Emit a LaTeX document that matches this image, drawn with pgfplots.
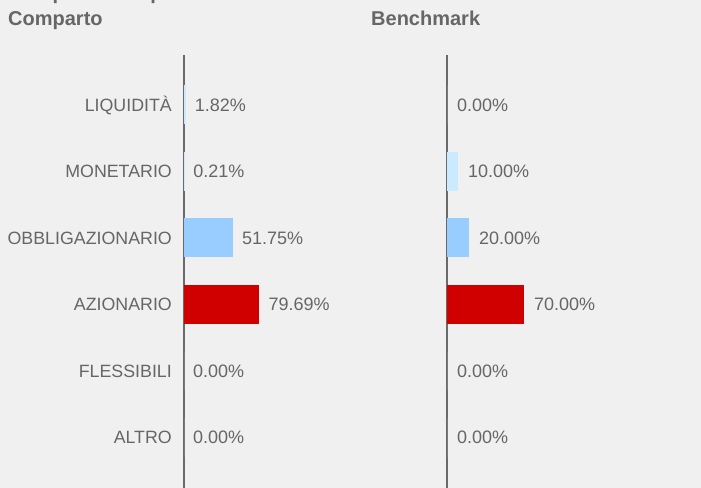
\documentclass[border=0pt]{standalone}
\usepackage{pgfplots}
\pgfplotsset{compat=1.18}
\usepackage{fontspec}
\setmainfont{Liberation Sans}
\definecolor{bg}{HTML}{F0F0F0}
\definecolor{txt}{HTML}{666666}
\definecolor{axg}{HTML}{6A6A6A}
\definecolor{redbar}{HTML}{D00000}
\definecolor{bluebar}{HTML}{99CCFF}
\definecolor{lightbar}{HTML}{CCEAFF}
\newcommand\lab{\fontsize{18bp}{20bp}\selectfont}
\newcommand\cat{\fontsize{17.8bp}{20bp}\selectfont}
\newcommand\ttl{\fontsize{20bp}{24bp}\selectfont\bfseries}
\pgfplotsset{
 mybars/.style={
  scale only axis, height=433.5bp, xbar, bar width=39bp,
  xmin=0, xmax=100, ymin=-0.75, ymax=5.77, y dir=reverse,
  axis x line=none, axis y line*=left,
  y axis line style={-, draw=axg, line width=2bp},
  ytick={0,...,5}, major tick length=0pt,
  clip=false,
  point meta=explicit symbolic,
  nodes near coords={\pgfplotspointmeta\%},
  every node near coord/.append style={anchor=base west, inner sep=0pt, xshift=9bp, yshift=-6.4bp, font=\lab, text=txt},
  every axis plot/.append style={draw=none, bar shift=0pt},
 }
}
\begin{document}
\begin{tikzpicture}
\fill[bg] (0,0) rectangle (701bp,-488bp);
\node[anchor=base west, inner sep=0pt, text=txt, font=\ttl] at (8bp,1bp) {Composizione per asset class};
\node[anchor=base west, inner sep=0pt, text=txt, font=\ttl] at (8bp,-25.5bp) {Comparto};
\node[anchor=base west, inner sep=0pt, text=txt, font=\ttl] at (371bp,-25.5bp) {Benchmark};
\begin{axis}[mybars, width=94.5bp, at={(184bp,-55.1bp)}, anchor=north west,
  yticklabels={LIQUIDITÀ,MONETARIO,OBBLIGAZIONARIO,AZIONARIO,FLESSIBILI,ALTRO},
  yticklabel style={font=\cat, text=txt, inner sep=0pt, anchor=base east, xshift=-12bp, yshift=-6.4bp}]
\addplot[fill=lightbar] coordinates {(1.82,0) [1.82]};
\addplot[fill=lightbar] coordinates {(0.21,1) [0.21]};
\addplot[fill=bluebar] coordinates {(51.75,2) [51.75]};
\addplot[fill=redbar] coordinates {(79.69,3) [79.69]};
\addplot[fill=lightbar] coordinates {(0,4) [0.00]};
\addplot[fill=lightbar] coordinates {(0,5) [0.00]};
\end{axis}
\begin{axis}[mybars, width=110bp, at={(447bp,-55.1bp)}, anchor=north west, yticklabels={},
  every node near coord/.append style={xshift=1bp}]
\addplot[fill=lightbar] coordinates {(0,0) [0.00]};
\addplot[fill=lightbar] coordinates {(10,1) [10.00]};
\addplot[fill=bluebar] coordinates {(20,2) [20.00]};
\addplot[fill=redbar] coordinates {(70,3) [70.00]};
\addplot[fill=lightbar] coordinates {(0,4) [0.00]};
\addplot[fill=lightbar] coordinates {(0,5) [0.00]};
\end{axis}
\pgfresetboundingbox
\path[use as bounding box] (0,0) rectangle (701bp,-488bp);
\end{tikzpicture}
\end{document}
